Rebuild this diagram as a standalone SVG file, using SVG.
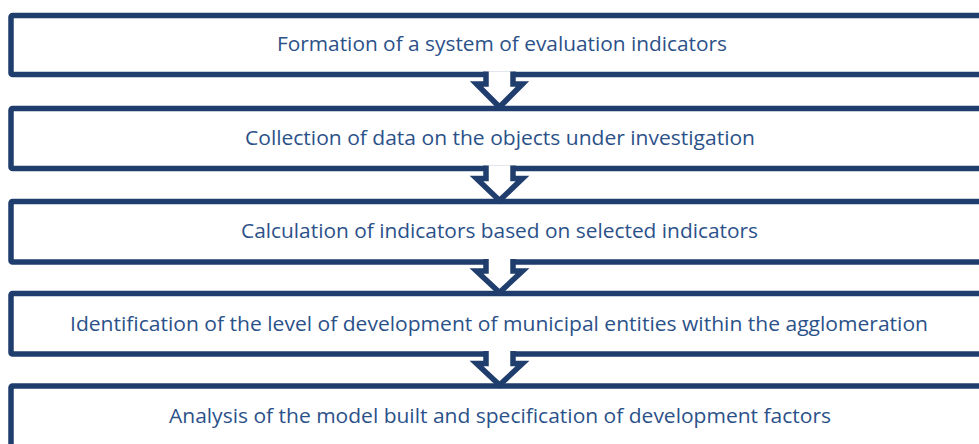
<svg xmlns="http://www.w3.org/2000/svg" width="979" height="444" viewBox="0 0 979 444">
<style>
.box{fill:#ffffff;stroke:#1F3D6D;stroke-width:5.5}
.arr{fill:#ffffff;stroke:#1F3D6D;stroke-width:5.5;stroke-linejoin:miter;stroke-miterlimit:10}
.lbl{font-family:"Open Sans","Liberation Sans",sans-serif;font-size:19.5px;fill:#2B5189;text-anchor:middle}
</style>
<rect width="979" height="444" fill="#ffffff"/>
<g id="n1"><rect class="box" x="11" y="15.5" width="985" height="59" rx="1.5"/><text class="lbl" x="502" y="51" textLength="450" lengthAdjust="spacingAndGlyphs">Formation of a system of evaluation indicators</text></g>
<g id="n2"><rect class="box" x="11" y="108.5" width="985" height="60" rx="1.5"/><text class="lbl" x="500" y="145" textLength="510" lengthAdjust="spacingAndGlyphs">Collection of data on the objects under investigation</text></g>
<g id="n3"><rect class="box" x="11" y="201.5" width="985" height="60.5" rx="1.5"/><text class="lbl" x="499.5" y="238" textLength="517" lengthAdjust="spacingAndGlyphs">Calculation of indicators based on selected indicators</text></g>
<g id="n4"><rect class="box" x="11" y="293.5" width="985" height="60.5" rx="1.5"/><text class="lbl" x="499" y="331" textLength="858" lengthAdjust="spacingAndGlyphs">Identification of the level of development of municipal entities within the agglomeration</text></g>
<g id="n5"><rect class="box" x="11" y="386" width="985" height="80" rx="1.5"/><text class="lbl" x="500" y="423" textLength="662" lengthAdjust="spacingAndGlyphs">Analysis of the model built and specification of development factors</text></g>
<g id="connectors">
<path class="arr" d="M486,71.5 V84 H476.5 L499.5,107 L522.5,84 H513 V71.5"/>
<path class="arr" d="M486,165.5 V178.5 H476.5 L499.5,200.5 L522.5,178.5 H513 V165.5"/>
<path class="arr" d="M486,259 V271 H476.5 L499.5,292.5 L522.5,271 H513 V259"/>
<path class="arr" d="M486,351 V363.5 H476.5 L499.5,385 L522.5,363.5 H513 V351"/>
</g>
</svg>
